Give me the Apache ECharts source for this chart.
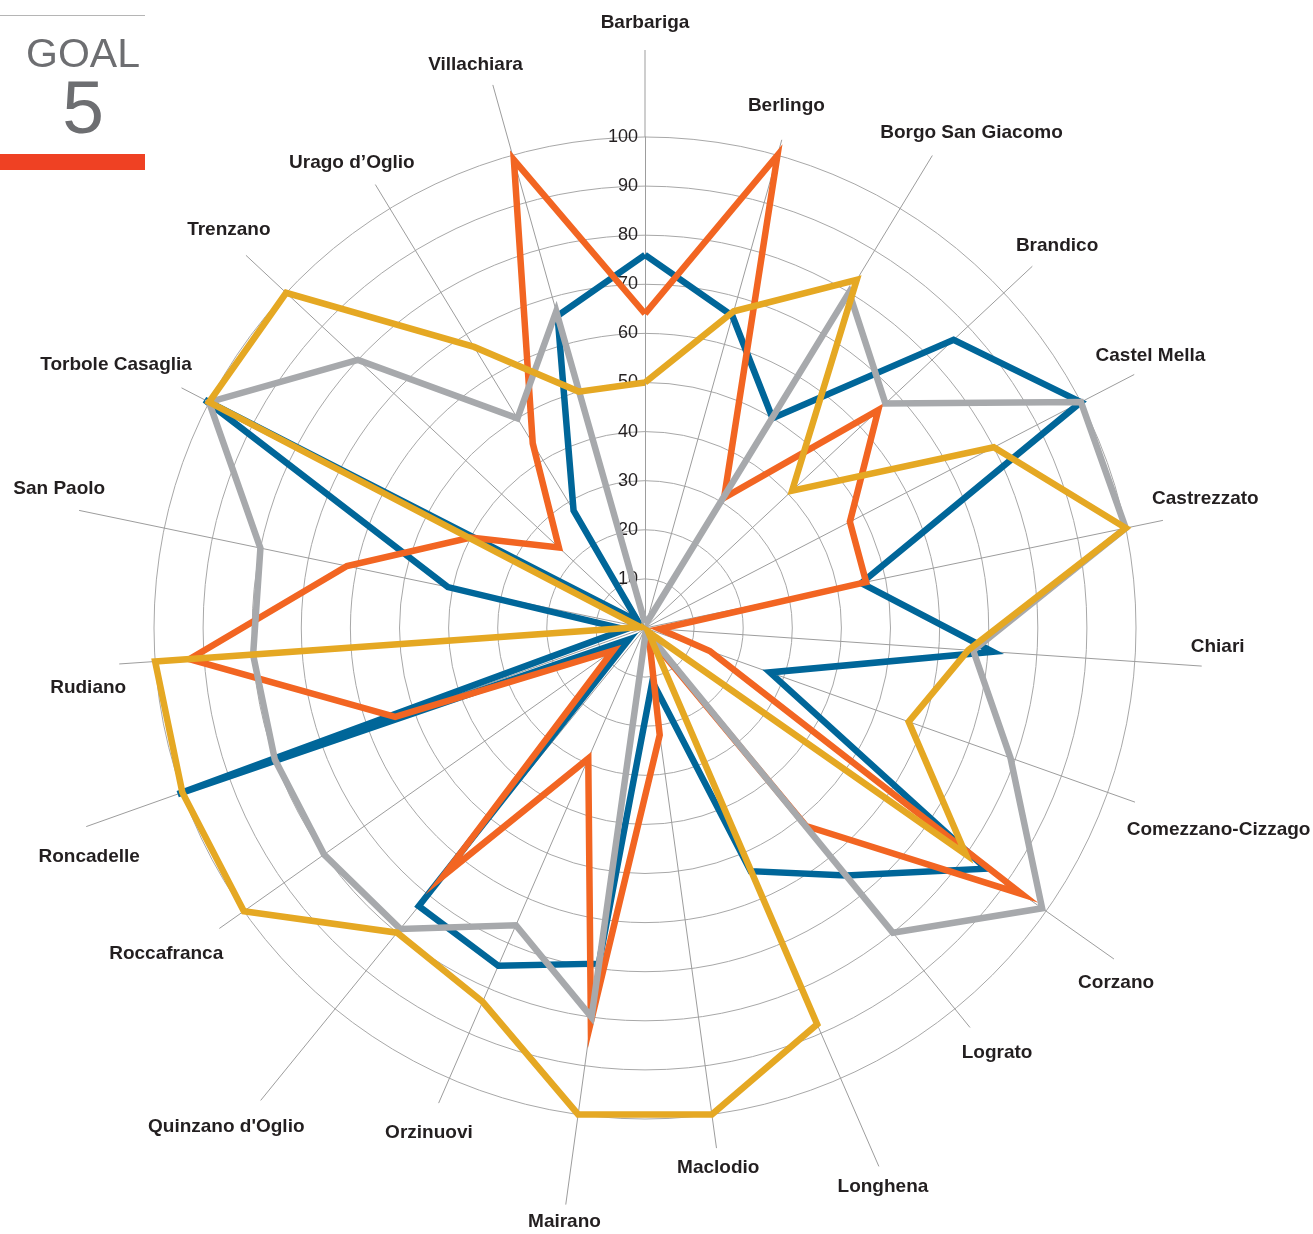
<!DOCTYPE html>
<html>
<head>
<meta charset="utf-8">
<title>Goal 5</title>
<script src="https://cdn.jsdelivr.net/npm/echarts@6/dist/echarts.min.js"></script>
<style>
  html, body { margin: 0; padding: 0; background: #fff; }
  #chart { width: 1313px; height: 1234px; }
</style>
</head>
<body>
<div id="chart"></div>
<script>
// comuni in senso orario a partire dall'alto
const comuni = [
  'Barbariga', 'Berlingo', 'Borgo San Giacomo', 'Brandico', 'Castel Mella',
  'Castrezzato', 'Chiari', 'Comezzano-Cizzago', 'Corzano', 'Lograto',
  'Longhena', 'Maclodio', 'Mairano', 'Orzinuovi', "Quinzano d'Oglio",
  'Roccafranca', 'Roncadelle', 'Rudiano', 'San Paolo', 'Torbole Casaglia',
  'Trenzano', 'Urago d\u2019Oglio', 'Villachiara'
]

const serieBlu = [76, 66, 50, 86, 100, 45, 71, 27, 85, 65, 54, 11, 69, 75, 73, 4, 101, 4, 41, 101, 2, 28, 66]
const serieArancio = [64, 100, 31, 65, 47, 46, 3, 14, 94, 52, 2, 22, 81, 29, 65, 8, 54, 93, 62, 40, 24, 44, 99]
const serieGrigio = [1, 1, 80, 67, 100, 100, 67, 79, 99, 80, 1, 1, 80, 66, 79, 80, 80, 80, 80, 100, 80, 50, 67]
const serieOro = [50, 67, 83, 41, 80, 100, 66, 57, 80, 1, 88, 100, 100, 83, 80, 100, 100, 100, 1, 100, 100, 67, 50]

const scalaMax = 100
const scalaPasso = 10

// layout: raggio e spostamento angolare delle etichette, lunghezza delle linee degli assi
const labelRadius = [605, 541, 593, 562, 574, 575, 573, 608, 590, 552, 607, 545, 599, 549, 651, 579, 601, 560, 602, 591, 576, 550, 588]
const labelShift = [0, -0.5, 2.1, 0.2, -0.9, -1.2, -2.0, -0.2, 1.8, -0.5, 0.4, 0.1, -0.1, -0.3, 0.9, 1.0, -2.8, -2.2, 1.6, -0.9, 0.7, -0.9, -1.1]
const lineEnd = [578, 507, 553, 530, 551, 529, 558, 520, 574, 515, 587, 525, 582, 518, 609, 521, 593, 527, 578, 522, 546, 519, 564]

const cx = 645, cy = 628, R = 491
const n = comuni.length
const font = '"Liberation Sans", Arial, Helvetica, sans-serif'

// il radar di echarts gira in senso antiorario: si inverte l'ordine
const ccw = arr => arr.map((_, j) => arr[(n - j) % n])

const chart = echarts.init(document.getElementById('chart'))

const extras = []
comuni.forEach((name, i) => {
  const a = i * 2 * Math.PI / n
  const la = a + labelShift[i] * Math.PI / 180
  extras.push({
    type: 'line', silent: true, z: 0,
    shape: {
      x1: cx + R * Math.sin(a), y1: cy - R * Math.cos(a),
      x2: cx + lineEnd[i] * Math.sin(a), y2: cy - lineEnd[i] * Math.cos(a)
    },
    style: { stroke: '#9d9d9d', lineWidth: 1 }
  })
  extras.push({
    type: 'text', silent: true, z: 5,
    x: cx + labelRadius[i] * Math.sin(la),
    y: cy - labelRadius[i] * Math.cos(la),
    style: {
      text: name, fill: '#231f20', fontSize: 19, fontWeight: 'bold', fontFamily: font,
      align: 'center', verticalAlign: 'middle'
    }
  })
})

// intestazione "GOAL 5"
extras.push(
  { type: 'line', silent: true, shape: { x1: 0, y1: 15.5, x2: 145, y2: 15.5 }, style: { stroke: '#b5b5b5', lineWidth: 1 } },
  { type: 'text', silent: true, x: 83, y: 56, style: { text: 'GOAL', fill: '#6d6e71', fontSize: 41, fontFamily: font, align: 'center', verticalAlign: 'middle' } },
  { type: 'text', silent: true, x: 83, y: 112, style: { text: '5', fill: '#6d6e71', fontSize: 75, fontFamily: font, align: 'center', verticalAlign: 'middle' } },
  { type: 'rect', silent: true, shape: { x: 0, y: 154, width: 145, height: 16 }, style: { fill: '#ef4123' } }
)

const indicator = ccw(comuni).map((name, j) => {
  const ind = { name, min: 0, max: scalaMax }
  if (j === 0) ind.axisLabel = { show: true }
  return ind
})

const colori = ['#006699', '#f26522', '#a7a9ac', '#e5a823']
const serie = [serieBlu, serieArancio, serieGrigio, serieOro]

const option = {
  animation: false,
  backgroundColor: '#fff',
  graphic: { elements: extras },
  radar: {
    center: [cx, cy],
    radius: R,
    startAngle: 90,
    shape: 'circle',
    splitNumber: scalaMax / scalaPasso,
    indicator,
    axisName: { show: false },
    axisLine: { lineStyle: { color: '#9d9d9d', width: 1 } },
    axisTick: { show: false },
    splitLine: { lineStyle: { color: '#a8a8a8', width: 1 } },
    splitArea: { show: false },
    axisLabel: {
      show: false,
      fontSize: 18,
      fontFamily: font,
      color: '#231f20',
      margin: 7,
      showMinLabel: false
    }
  },
  series: serie.map((values, k) => ({
    type: 'radar',
    silent: true,
    symbol: 'none',
    z: 2 + k,
    lineStyle: { color: colori[k], width: 6.5, join: 'miter', miterLimit: 10, opacity: 1 },
    data: [{ value: ccw(values) }]
  }))
}

chart.setOption(option)
</script>
</body>
</html>
